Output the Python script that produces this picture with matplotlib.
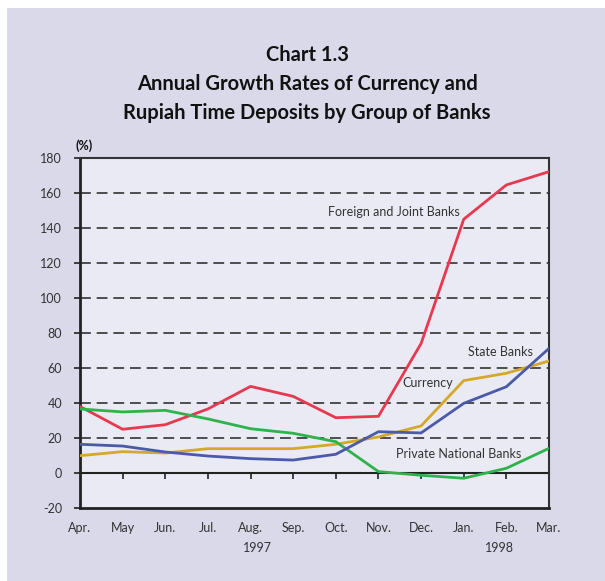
import matplotlib
matplotlib.use("Agg")
import matplotlib.pyplot as plt

plt.rcParams['font.family'] = ['Lato', 'DejaVu Sans']

# Data (annual growth, %)
months = ["Apr.", "May", "Jun.", "Jul.", "Aug.", "Sep.", "Oct.", "Nov.", "Dec.", "Jan.", "Feb.", "Mar."]
foreign_joint = [38, 25, 27.6, 36.6, 49.5, 43.8, 31.6, 32.4, 74, 145, 164.6, 172.2]
private_national = [36.6, 34.9, 35.8, 30.9, 25.3, 22.7, 17.9, 0.8, -1.3, -3, 2.7, 14.1]
state_banks = [16.4, 15.4, 12, 9.7, 8.2, 7.4, 10.7, 23.6, 22.9, 39.8, 49.3, 71.2]
currency = [9.9, 12.2, 11.4, 13.9, 13.9, 13.9, 16.4, 20.6, 26.9, 52.8, 57, 64]
y_ticks = [-20, 0, 20, 40, 60, 80, 100, 120, 140, 160, 180]

outer_bg = "#d9d9ea"
plot_bg = "#eaeaf4"
text_col = "#333333"

fig = plt.figure(figsize=(6.05, 5.81), dpi=100)
fig.patch.set_facecolor("white")
# lavender panel with a thin white margin top/left
fig.patches.append(plt.Rectangle((7 / 605, 0), 1, 1 - 8 / 581, transform=fig.transFigure,
                                 facecolor=outer_bg, edgecolor="none", zorder=-10))

ax = fig.add_axes([80 / 605, 1 - 508 / 581, 469 / 605, 350 / 581])
ax.set_facecolor(plot_bg)

x = list(range(len(months)))
ax.plot(x, foreign_joint, color="#e8384f", lw=2.0, zorder=5)
ax.plot(x, private_national, color="#2db34a", lw=2.0, zorder=5)
ax.plot(x, currency, color="#d4a82a", lw=2.0, zorder=4)
ax.plot(x, state_banks, color="#4a5aa8", lw=2.0, zorder=5)

ax.set_xlim(0, len(months) - 1)
ax.set_ylim(-20, 180)
ax.set_yticks(y_ticks)
ax.set_yticklabels([str(v) for v in y_ticks], color=text_col, fontsize=9)
ax.tick_params(axis='y', direction='out', length=4, width=1.2, pad=9, color="#222222")

# month labels under the frame, no ticks on the bottom spine
ax.set_xticks(x)
ax.set_xticklabels(months, color=text_col, fontsize=9)
ax.tick_params(axis='x', length=0, pad=10)

# dashed gridlines
for v in y_ticks[2:-1]:
    ax.axhline(v, color="#333333", lw=1.2, ls=(0, (6.5, 3.5)), zorder=1)

# zero line with small month ticks
zero_ax = ax.secondary_xaxis(20 / 200)
zero_ax.set_xticks(x[1:-1])
zero_ax.tick_params(axis='x', direction='out', length=4, width=1.2, labelbottom=False,
                    labeltop=False, color="#222222")
zero_ax.spines['bottom'].set_linewidth(1.5)
zero_ax.spines['bottom'].set_color("#222222")

for side in ['top', 'right']:
    ax.spines[side].set_linewidth(1.5)
    ax.spines[side].set_color("#333333")
for side in ['left', 'bottom']:
    ax.spines[side].set_linewidth(2.0)
    ax.spines[side].set_color("#222222")

# series labels
ax.text(5.81, 149.3, "Foreign and Joint Banks", fontsize=9, color=text_col, ha='left', va='center')
ax.text(10.62, 69.3, "State Banks", fontsize=9, color=text_col, ha='right', va='center')
ax.text(7.55, 51.3, "Currency", fontsize=9, color=text_col, ha='left', va='center')
ax.text(7.41, 10.7, "Private National Banks", fontsize=9, color=text_col, ha='left', va='center')

# years and unit
fig.text(257 / 605, 1 - 548 / 581, "1997", fontsize=9, color=text_col, ha='center', va='center')
fig.text(499 / 605, 1 - 548 / 581, "1998", fontsize=9, color=text_col, ha='center', va='center')
fig.text(84 / 605, 1 - 146 / 581, "(%)", fontsize=9, fontweight='bold', color="#111111",
         ha='center', va='center')

# title
title_kw = dict(fontsize=14.5, fontweight='bold', color="#111111", ha='center', va='center')
fig.text(307 / 605, 1 - 55 / 581, "Chart 1.3", **title_kw)
fig.text(307 / 605, 1 - 84 / 581, "Annual Growth Rates of Currency and", **title_kw)
fig.text(307 / 605, 1 - 113 / 581, "Rupiah Time Deposits by Group of Banks", **title_kw)

fig.savefig("out.png", dpi=100, facecolor=fig.get_facecolor())
